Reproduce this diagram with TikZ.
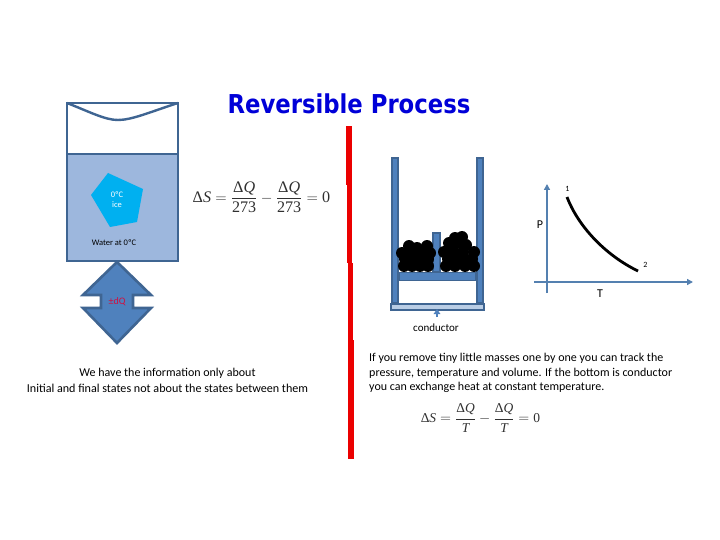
\documentclass[tikz,border=0pt]{standalone}
\usepackage{graphicx}
\usepackage{fontspec}
\usepackage{amsmath}
\setmainfont{Carlito}
\newfontfamily\ttlfont{DejaVu Sans}
\newfontfamily\tmsfont{Liberation Serif}
\usetikzlibrary{arrows.meta}
\definecolor{edgeblue}{HTML}{3F6592}
\definecolor{midblue}{HTML}{4F81BD}
\definecolor{waterblue}{HTML}{9DB7DD}
\definecolor{iceblue}{HTML}{00B0F0}
\definecolor{axisblue}{HTML}{5480B0}
\definecolor{platelight}{HTML}{B9CDE5}
\definecolor{titleblue}{HTML}{0000D8}
\definecolor{dqred}{HTML}{D01040}
\definecolor{eqgray}{HTML}{303030}
\newcommand{\rmT}[1]{\hbox{\tmsfont #1}}
\newcommand{\itT}[1]{\hbox{\tmsfont\itshape #1}}
\newcommand{\eqfrac}[2]{\dfrac{\rmT{Δ}\itT{#1}}{#2}}
\tikzset{
  x=1pt,y=-1pt,
  vessel/.style={draw=edgeblue,line width=2.9pt,line join=miter},
  wallpart/.style={draw=edgeblue,fill=midblue,line width=1.8pt},
  axisline/.style={draw=axisblue,line width=1.4pt,-{Triangle[length=6pt,width=6pt]}},
  txt/.style={font=\fontsize{12}{14}\selectfont,inner sep=0pt,text=black},
  smalltxt/.style={font=\fontsize{8.5}{10}\selectfont,inner sep=0pt},
  mass/.style={fill=black,draw=none},
  eqn/.style={inner sep=0pt,text=eqgray},
}
\begin{document}
\begin{tikzpicture}
\useasboundingbox (0,0) rectangle (720,540);
\fill[white] (0,0) rectangle (720,540);
% title
\node[font=\ttlfont\bfseries\fontsize{26}{30}\selectfont,text=titleblue,inner sep=0pt] (title) at (349,104) {\scalebox{0.875}[1]{Reversible Process}};
% left vessel
\draw[vessel,fill=white] (67,103) rectangle (178,154);
\draw[vessel,line width=2.4pt] (67,103) .. controls (90,112) and (105,120) .. (118,120) .. controls (132,120) and (150,112) .. (178,103);
\draw[vessel,fill=waterblue] (67,154) rectangle (178,261);
\fill[iceblue] (108,173) -- (143,189) -- (137,222) -- (110,227) -- (91,195) -- cycle;
\node[smalltxt,text=white] (ice1) at (117,195) {0ºC};
\node[smalltxt,text=white] (ice2) at (117,205) {ice};
\node[smalltxt,text=black] (water) at (114,243) {Water at 0ºC};
% heat double arrow
\draw[draw=edgeblue,fill=midblue,line width=2.6pt,line join=miter]
  (117,262) -- (151,295) -- (133,295) -- (133,308) -- (151,308) -- (117,343)
  -- (83,308) -- (101,308) -- (101,295) -- (83,295) -- cycle;
\node[font=\fontsize{10}{12}\selectfont,text=dqred,inner sep=0pt] (dq) at (117,302) {±dQ};
% first equation
\node[eqn] (eq1) at (261.5,197) {\scalebox{1.04}{\fontsize{15.5}{18}\selectfont$\rmT{Δ}\itT{S}=\eqfrac{Q}{\rmT{273}}-\eqfrac{Q}{\rmT{273}}=\rmT{0}$}};
% left caption
\node[txt] (cap1) at (167.5,373) {We have the information only about};
\node[txt,font=\fontsize{12.1}{14}\selectfont] (cap2) at (167.5,388) {Initial and final states not about the states between them};
% red divider
\fill[red!92!black] (346,126) rectangle (352,185);
\fill[red!92!black] (347,185) rectangle (352,263);
\fill[red!92!black] (347.5,263) rectangle (353,340);
\fill[red!92!black] (348,340) rectangle (354,459);
% piston
\draw[wallpart] (392,158) rectangle (398,303);
\draw[wallpart] (477,158) rectangle (483,303);
\draw[draw=edgeblue,fill=platelight,line width=2.4pt] (391,304) rectangle (484,310);
\draw[wallpart] (399,272.5) rectangle (476,280.5);
\draw[wallpart] (433,233) rectangle (440,272);
% masses
\foreach \cx/\cy in {404/266,412/266,420/266,428/266,
  402/253,410/253,418/253,426/253,430/253,
  405/259,413/259,421/259,428/259,
  409/246,417/248,427/246,
  446/266,455/266,465/266,474/266,
  444/252,453/252,463/252,474/252,
  448/259,456/259,464/259,472/259,
  449/243,457/243,466/245,455/238,462/237}
  \fill[mass] (\cx,\cy) circle[radius=6];
\coordinate (condfoot) at (437,317);
\coordinate (condtip) at (437,309);
\draw[draw=midblue,line width=2.4pt,-{Triangle[length=5pt,width=6.5pt]}] (condfoot) -- (condtip);
\node[font=\fontsize{11}{12}\selectfont,inner sep=0pt] (cond) at (436,328) {conductor};
% PT chart
\coordinate (pfoot) at (547,293);
\coordinate (ptip) at (547,184);
\coordinate (tfoot) at (534,282);
\coordinate (ttip) at (693,282);
\draw[axisline] (pfoot) -- (ptip);
\draw[axisline] (tfoot) -- (ttip);
\coordinate (st1) at (567,197);
\coordinate (st2) at (638,271);
\draw[black,line width=2.8pt] (st1) .. controls (578,226) and (605,255) .. (st2);
\node[smalltxt,font=\fontsize{8}{10}\selectfont] (n1) at (567.5,189) {1};
\node[smalltxt,font=\fontsize{8}{10}\selectfont] (n2) at (645.5,265) {2};
\node[font=\fontsize{12}{14}\selectfont,inner sep=0pt] (plab) at (540,225) {P};
\node[font=\fontsize{12}{14}\selectfont,inner sep=0pt] (tlab) at (600,294) {T};
% right text
\node[txt,anchor=west] (r1) at (369,358) {If you remove tiny little masses one by one you can track the};
\node[txt,anchor=west] (r2) at (369,373) {pressure, temperature and volume. If the bottom is conductor};
\node[txt,anchor=west] (r3) at (369,387) {you can exchange heat at constant temperature.};
\node[eqn] (eq2) at (480.5,418) {\fontsize{13.5}{16}\selectfont$\rmT{Δ}\itT{S}=\eqfrac{Q}{\itT{T}}-\eqfrac{Q}{\itT{T}}=\rmT{0}$};
\end{tikzpicture}
\end{document}
